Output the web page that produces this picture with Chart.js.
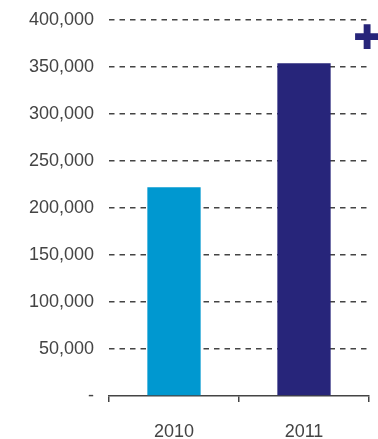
<!DOCTYPE html>
<html>
<head>
<meta charset="utf-8">
<script src="https://cdn.jsdelivr.net/npm/chart.js@4/dist/chart.umd.min.js"></script>
<style>
  body { margin: 0; background: #fff; }
  #wrap { width: 378px; height: 439px; }
</style>
</head>
<body>
<div id="wrap"><canvas id="chart"></canvas></div>
<script>
// values
const years = ["2010", "2011"];
const totals = [222000, 354000];
const yTicks = [0, 50000, 100000, 150000, 200000, 250000, 300000, 350000, 400000];

const textGrey = "#444";

// draws the "+" mark in the top right corner
const plusMark = {
    id: "plusMark",
    afterDraw(chart) {
        const ctx = chart.ctx;
        ctx.save();
        ctx.fillStyle = "#27257a";
        ctx.strokeStyle = "#27257a";
        ctx.lineWidth = 2;
        ctx.font = "bold 44px 'Liberation Sans', Arial, sans-serif";
        ctx.textAlign = "center";
        ctx.textBaseline = "middle";
        ctx.fillText("+", 367, 40);
        ctx.strokeText("+", 367, 40);
        ctx.restore();
    }
};

var ctx = document.getElementById("chart").getContext("2d");
new Chart(ctx, {
    type: "bar",
    data: {
        labels: years,
        datasets: [{
            data: totals,
            backgroundColor: ["#0098d0", "#27257a"],
            borderWidth: 0,
            barPercentage: 0.41,
            categoryPercentage: 1
        }]
    },
    options: {
        responsive: true,
        maintainAspectRatio: false,
        animation: false,
        layout: { padding: { top: 20, right: 9, left: 0, bottom: 0 } },
        plugins: {
            legend: { display: false },
            tooltip: { enabled: false }
        },
        scales: {
            x: {
                offset: true,
                grid: {
                    offset: true,
                    drawOnChartArea: false,
                    drawTicks: true,
                    tickLength: 6,
                    color: "#444",
                    lineWidth: 1.5
                },
                border: { display: true, color: "#444", width: 1.5 },
                ticks: {
                    color: textGrey,
                    padding: 19,
                    font: { family: "'Liberation Sans', Arial, sans-serif", size: 18 }
                },
                afterFit(scale) { scale.height = 43; }
            },
            y: {
                min: 0,
                max: 400000,
                afterBuildTicks(scale) {
                    scale.ticks = yTicks.map(v => ({ value: v }));
                },
                grid: {
                    drawTicks: false,
                    color: c => (c.tick && c.tick.value === 0) ? "rgba(0,0,0,0)" : "#444",
                    lineWidth: 1.5
                },
                border: { display: false, dash: [5.5, 5] },
                ticks: {
                    color: textGrey,
                    padding: 15,
                    font: { family: "'Liberation Sans', Arial, sans-serif", size: 18 },
                    callback: v => v === 0 ? "-" : v.toLocaleString("en-US")
                },
                afterFit(scale) {
                    scale.width = 109;
                    scale.paddingTop = 0;
                    scale.paddingBottom = 0;
                }
            }
        }
    },
    plugins: [plusMark]
});
</script>
</body>
</html>
